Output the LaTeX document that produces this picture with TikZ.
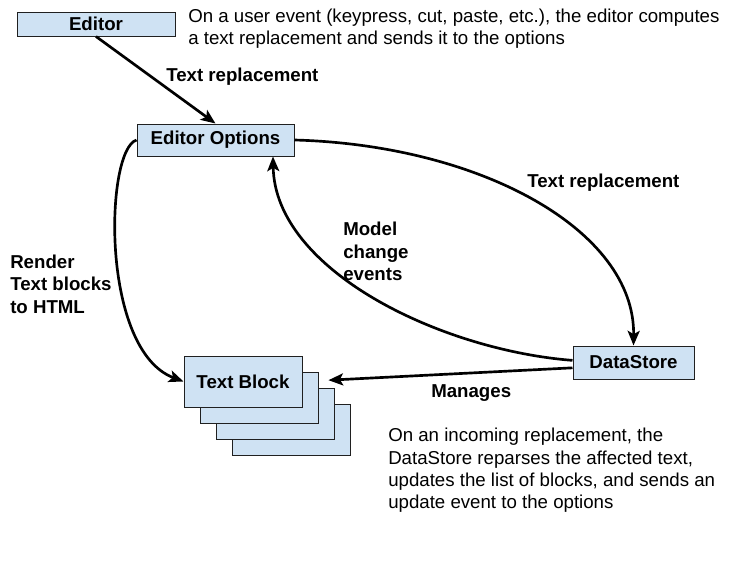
\documentclass[tikz,border=0pt]{standalone}
\usepackage{fontspec}
\setmainfont{Liberation Sans}
\usepackage{tikz}
\usetikzlibrary{arrows.meta,positioning,calc}
\definecolor{BlockFill}{HTML}{CFE2F3}
\definecolor{BlockDraw}{HTML}{202020}

\begin{document}
\begin{tikzpicture}[x=0.75pt, y=-0.75pt, font=\fontsize{14}{16.8}\selectfont]
  \tikzstyle{block} = [rectangle, draw=BlockDraw, fill=BlockFill, line width=0.75pt, inner sep=0pt, font=\fontsize{14}{16.8}\selectfont\bfseries]
  \tikzstyle{tag} = [anchor=west, align=left, inner sep=0pt, font=\fontsize{14}{16.8}\selectfont\bfseries]
  \tikzstyle{note} = [anchor=west, align=left, inner sep=0pt]
  \tikzstyle{line} = [draw=black, line width=2pt, -{Stealth[length=11pt, width=9pt, inset=2.5pt]}]

  \useasboundingbox (0,0) rectangle (733,572);

  \node [block, minimum width=118.5pt, minimum height=18pt] (editor) at (96,24) {Editor};
  \node [block, minimum width=117.75pt, minimum height=24pt] (options) at (215.5,140) {Editor Options};
  \foreach \i in {3,2,1}
    \node [block, minimum width=88.5pt, minimum height=38.25pt] (page\i) at (243+16*\i,381.5+16*\i) {};
  \node [block, minimum width=88.5pt, minimum height=38.25pt] (textblock) at (243,381.5) {Text Block};
  \node [block, minimum width=90.75pt, minimum height=24.75pt] (datastore) at (633.5,362.5) {DataStore};

  \path [line] (editor.south) -- (options.north);
  \path [line] (options.east) .. controls (480,145) and (635,230) .. (datastore.north);
  \path [line] (datastore.178) .. controls (440,350) and (275,270) .. ($(options.south)+(57.5,0)$);
  \path [line, shorten >=19.5pt] (datastore.185) -- (textblock.east);
  \path [line] (options.west) .. controls (105,150) and (100,350) .. (textblock.west);

  \node [tag] (replace1) at (166,77) {Text replacement};
  \node [tag] (replace2) at (527,183) {Text replacement};
  \node [tag] (model) at (343,251.5) {Model\\change\\events};
  \node [tag] (render) at (10,284) {Render\\Text blocks\\to HTML};
  \node [tag] (manages) at (431,393) {Manages};
  \node [note] (editnote) at (188,28.5) {On a user event (keypress, cut, paste, etc.), the editor computes\\a text replacement and sends it to the options};
  \node [note] (storenote) at (388,470.5) {On an incoming replacement, the\\DataStore reparses the affected text,\\updates the list of blocks, and sends an\\update event to the options};
\end{tikzpicture}
\end{document}
